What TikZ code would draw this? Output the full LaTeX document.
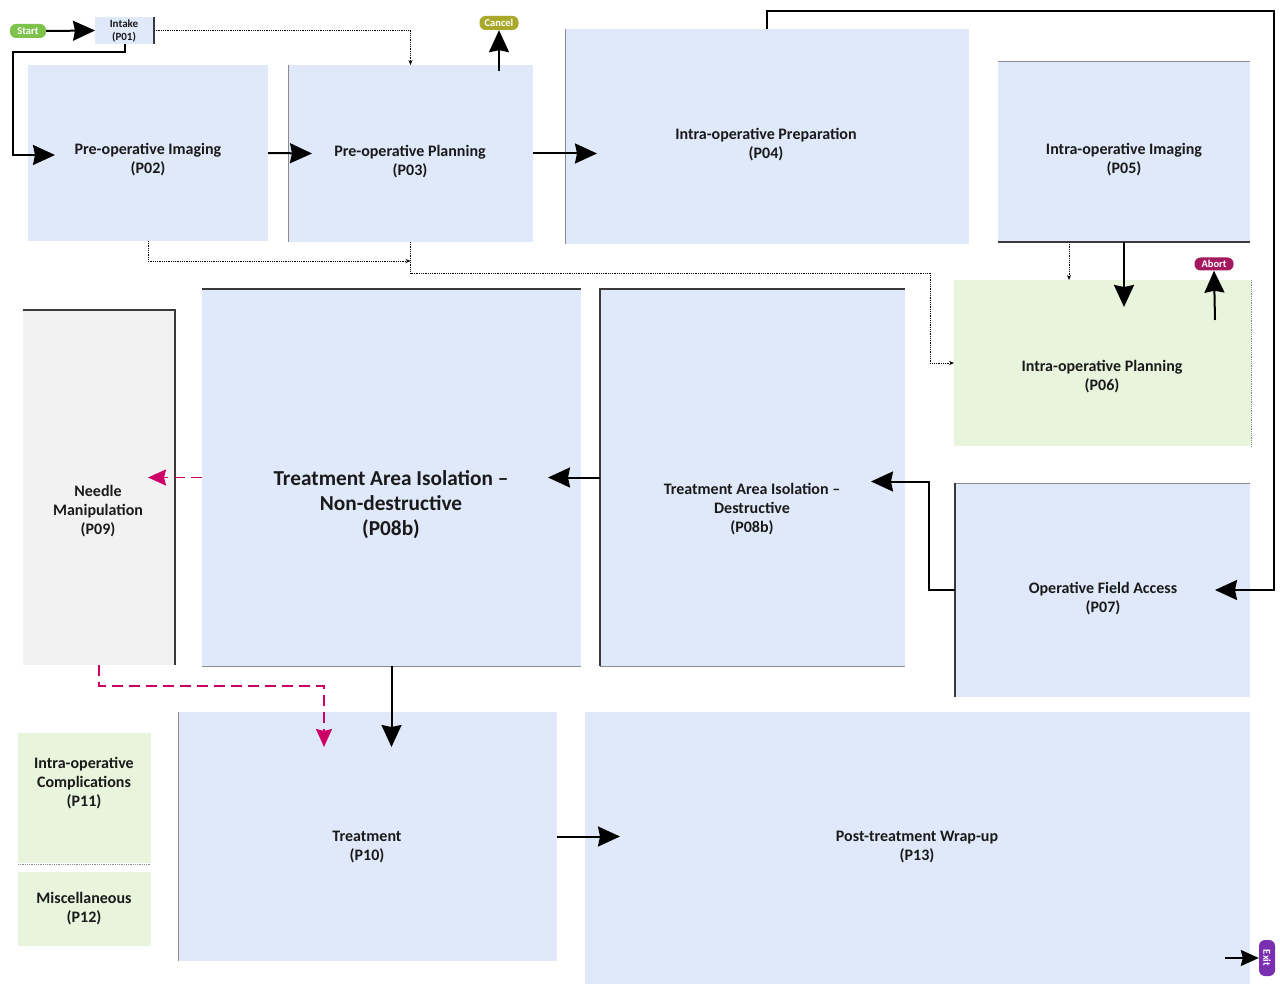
\documentclass[tikz,border=0pt]{standalone}
\usepackage{fontspec}
\setmainfont{Carlito}
\usetikzlibrary{arrows.meta,calc}
\definecolor{bluefill}{HTML}{DFE9FA}
\definecolor{greenfill}{HTML}{E9F4DD}
\definecolor{grayfill}{HTML}{F2F2F2}
\definecolor{startgreen}{HTML}{7DC24B}
\definecolor{cancelolive}{HTML}{A9A82A}
\definecolor{abortmag}{HTML}{A3185E}
\definecolor{exitpurp}{HTML}{7A2FB0}
\definecolor{dashmag}{HTML}{CC0066}
\definecolor{edgegray}{HTML}{8C8C8C}
\definecolor{edgedark}{HTML}{3A3A3A}
\definecolor{txt}{HTML}{1A1A1A}
\tikzset{
  box/.style={anchor=north west, inner sep=0pt, outer sep=0pt, draw=none},
  bluebox/.style={box, fill=bluefill},
  greenbox/.style={box, fill=greenfill},
  graybox/.style={box, fill=grayfill},
  lbl/.style={font=\bfseries\fontsize{16}{19}\selectfont, align=center, text=txt, inner sep=0pt},
  biglbl/.style={font=\bfseries\fontsize{21.3}{25}\selectfont, align=center, text=txt, inner sep=0pt},
  smalllbl/.style={font=\bfseries\fontsize{11}{12.5}\selectfont, align=center, text=txt, inner sep=0pt},
  pill/.style={rounded corners=6pt, inner sep=0pt, text=white, font=\bfseries\fontsize{10.5}{11}\selectfont, minimum height=14pt},
  arr/.style={line width=2pt, draw=black, -{Stealth[length=22pt,width=20pt,inset=2pt]}},
  smallarr/.style={line width=1.7pt, draw=black, -{Stealth[length=18pt,width=16pt,inset=2pt]}},
  dotarr/.style={densely dotted, line width=0.8pt, -{Stealth[length=5pt,width=4pt]}},
  dotline/.style={densely dotted, line width=0.8pt},
  magarr/.style={draw=dashmag, dash pattern=on 11pt off 6pt, line width=1.7pt, -{Stealth[length=18pt,width=16pt,inset=2pt]}},
  grayedge/.style={draw=edgegray, line width=1pt},
  darkedge/.style={draw=edgedark, line width=1.4pt},
}
\begin{document}
\begin{tikzpicture}[x=1pt,y=-1pt]
\useasboundingbox[fill=white] (0,0) rectangle (1280,984);

% ---- boxes ----
\node[bluebox, minimum width=59pt, minimum height=27pt] (intake) at (95,17) {};
\node[bluebox, minimum width=240pt, minimum height=176pt] (p02) at (28,65) {};
\node[bluebox, minimum width=245pt, minimum height=177pt] (p03) at (288,65) {};
\node[bluebox, minimum width=404pt, minimum height=215pt] (p04) at (565,29) {};
\node[bluebox, minimum width=252pt, minimum height=180pt] (p05) at (998,62) {};
\node[greenbox, minimum width=297pt, minimum height=166pt] (p06) at (954,280) {};
\node[bluebox, minimum width=295pt, minimum height=214pt] (p07) at (955,483) {};
\node[bluebox, minimum width=305pt, minimum height=377pt] (p08d) at (600,289) {};
\node[bluebox, minimum width=379pt, minimum height=377pt] (p08n) at (202,289) {};
\node[graybox, minimum width=152pt, minimum height=355pt] (p09) at (23,310) {};
\node[bluebox, minimum width=379pt, minimum height=249pt] (p10) at (178,712) {};
\node[bluebox, minimum width=665pt, minimum height=272pt] (p13) at (585,712) {};
\node[greenbox, minimum width=133pt, minimum height=130pt] (p11) at (18,733) {};
\node[greenbox, minimum width=133pt, minimum height=74pt] (p12) at (18,872) {};

% ---- partial borders ----
\draw[darkedge, line width=1.8pt] (intake.north east) -- (intake.south east);
\draw[grayedge] (p03.north west) -- (p03.south west);
\draw[grayedge] (p04.north west) -- (p04.south west);
\draw[grayedge] (p05.north west) -- (p05.north east);
\draw[darkedge] (p05.south west) -- (p05.south east);
\draw[dotline, draw=edgegray] (p06.north east) -- (p06.south east);
\draw[grayedge] (p07.north west) -- (p07.north east);
\draw[darkedge] (p07.north west) -- (p07.south west);
\draw[darkedge] (p08d.south west) -- (p08d.north west) -- (p08d.north east);
\draw[grayedge] (p08d.south west) -- (p08d.south east);
\draw[darkedge] (p08n.north west) -- (p08n.north east);
\draw[grayedge] (p08n.south west) -- (p08n.south east);
\draw[darkedge] (p09.north west) -- (p09.north east) -- (p09.south east);
\draw[grayedge] (p10.north west) -- (p10.south west);
\draw[dotline, draw=edgegray] ($(p11.south west)+(0,1)$) -- ($(p11.south east)+(0,1)$);

% ---- labels ----
\node[smalllbl] (intakeT) at (124,31) {Intake\\(P01)};
\node[lbl] (p02T) at (148,160) {Pre-operative Imaging\\(P02)};
\node[lbl] (p03T) at (410,162) {Pre-operative Planning\\(P03)};
\node[lbl] (p04T) at (766,145) {Intra-operative Preparation\\(P04)};
\node[lbl] (p05T) at (1124,160) {Intra-operative Imaging\\(P05)};
\node[lbl] (p06T) at (1102,377) {Intra-operative Planning\\(P06)};
\node[lbl] (p07T) at (1103,599) {Operative Field Access\\(P07)};
\node[lbl] (p08dT) at (752,509) {Treatment Area Isolation --\\Destructive\\(P08b)};
\node[biglbl] (p08nT) at (391,505) {Treatment Area Isolation --\\Non-destructive\\(P08b)};
\node[lbl] (p09T) at (98,511) {Needle\\Manipulation\\(P09)};
\node[lbl] (p10T) at (367,847) {Treatment\\(P10)};
\node[lbl] (p13T) at (917,847) {Post-treatment Wrap-up\\(P13)};
\node[lbl] (p11T) at (84,783) {Intra-operative\\Complications\\(P11)};
\node[lbl] (p12T) at (84,909) {Miscellaneous\\(P12)};

% ---- terminals ----
\node[pill, fill=startgreen, minimum width=36pt] (start) at (28,31) {Start};
\node[pill, fill=cancelolive, minimum width=39pt] (cancel) at (499,23) {Cancel};
\node[pill, fill=abortmag, minimum width=39pt, minimum height=13pt] (abort) at (1214,264) {Abort};
\node[pill, fill=exitpurp, minimum width=36pt, minimum height=16pt, rotate=-90] (exit) at (1267,958) {Exit};
\coordinate (exitin) at (1225,958);

% ---- connectors ----
\draw[arr] (start.east) -- (intake.west);
\draw[arr] (intake.south) -- ++(0,8) -| ($(p02.west)+(-15,2)$) -- ($(p02.west)+(27,2)$);
\draw[dotarr] (intake.east) -| (p03.north);
\draw[arr] (p02.east) -- ($(p03.west)+(24,0)$);
\draw[arr] ($(p03.north west)+(211,6)$) -- (cancel.south);
\draw[arr] (p03.east) -- ($(p04.west |- p03.east)+(32,0)$);
\draw[dotarr] (p02.south) |- ($(p03.south)+(0,19)$);
\draw[dotarr] (p03.south) -- ++(0,31) -| ($(p06.west)+(-24,0)$) -- (p06.west);
\draw[arr] (p04.north) |- (1274,11) |- ($(p07.east)+(-35,0)$);
\draw[dotarr] ($(p05.south west)+(71,0)$) -- ($(p06.north west)+(115,0)$);
\draw[arr] (p05.south) -- ++(0,65);
\draw[arr] ($(p06.north west)+(261,40)$) -- (abort.south);
\draw[arr] (p07.west) -- ++(-26,0) |- ($(p08d.east)+(-34,4)$);
\draw[arr] (p08d.west) -- ($(p08n.east)+(-33,0)$);
\draw[magarr] (p08n.west) -- ($(p08n.west)+(-54,0)$);
\draw[magarr] (p09.south) -- ++(0,21) -| ($(p10.north west)+(146,35)$);
\draw[arr] (p08n.south) -- ++(0,81);
\draw[arr] (p10.east) -- ++(63,0);
\draw[smallarr] (exitin) -- (exit.south);
\end{tikzpicture}
\end{document}
